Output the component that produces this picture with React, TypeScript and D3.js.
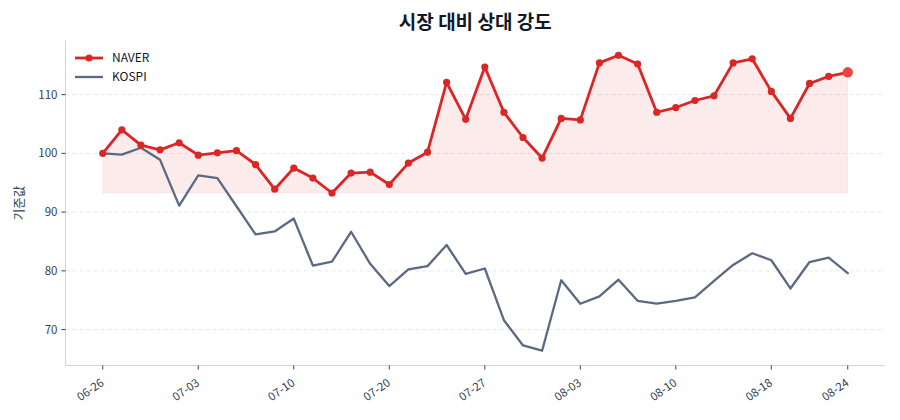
import * as d3 from 'd3'

const dates = [
  '06-26', '06-27', '06-28', '06-29', '06-30',
  '07-03', '07-04', '07-05', '07-06', '07-07',
  '07-10', '07-11', '07-12', '07-13', '07-14',
  '07-20', '07-21', '07-24', '07-25', '07-26',
  '07-27', '07-28', '07-31', '08-01', '08-02',
  '08-03', '08-04', '08-07', '08-08', '08-09',
  '08-10', '08-11', '08-14', '08-16', '08-17',
  '08-18', '08-21', '08-22', '08-23', '08-24',
]

const naver = [
  100, 104.0, 101.4, 100.6, 101.8, 99.7, 100.1, 100.45, 98.1, 93.9,
  97.5, 95.8, 93.25, 96.65, 96.8, 94.7, 98.35, 100.2, 112.1, 105.8,
  114.7, 107.0, 102.7, 99.2, 105.95, 105.7, 115.4, 116.7, 115.2, 107.0,
  107.8, 109.0, 109.8, 115.4, 116.1, 110.55, 105.95, 111.9, 113.1, 113.8,
]

const kospi = [
  100, 99.8, 100.95, 98.9, 91.1, 96.25, 95.8, 91.0, 86.2, 86.7,
  88.9, 80.9, 81.55, 86.65, 81.2, 77.4, 80.25, 80.8, 84.4, 79.5,
  80.4, 71.6, 67.3, 66.4, 78.4, 74.4, 75.65, 78.5, 74.9, 74.4,
  74.9, 75.5, 78.3, 81.0, 83.0, 81.8, 77.0, 81.5, 82.25, 79.6,
]

const yTicks = [70, 80, 90, 100, 110]
const xTickIdx = [0, 5, 10, 15, 20, 25, 30, 35, 39]

const W = 900
const H = 420
const M = { left: 65.5, right: 885, top: 40.5, bottom: 365.5 }
const FONT = '"Noto Sans CJK KR", "Noto Sans", sans-serif'
const RED = '#dc2626'
const SLATE = '#5b6a82'
const TEXT = '#334155'

export default function App() {
  const n = dates.length
  // matplotlib-like 5% x margin
  const step = (M.right - M.left) / (n - 1 + 2 * 1.95)
  const x = d3.scaleLinear().domain([0, n - 1]).range([M.left + 1.95 * step, M.right - 1.95 * step])

  const all = [...naver, ...kospi]
  const [lo, hi] = d3.extent(all) as [number, number]
  const pad = (hi - lo) * 0.05
  const y = d3.scaleLinear().domain([lo - pad, hi + pad]).range([M.bottom, M.top])

  const base = d3.min(naver) as number
  const line = d3.line<number>().x((_, i) => x(i)).y((d) => y(d))
  const area = d3.area<number>().x((_, i) => x(i)).y0(y(base)).y1((d) => y(d))

  const last = naver.length - 1

  return (
    <div style={{ position: 'absolute', left: 0, top: 0 }}>
      <svg width={W} height={H} style={{ display: 'block', background: '#fff', fontFamily: FONT }}>
        {/* grid */}
        {yTicks.map((t) => (
          <line key={t} x1={M.left} x2={M.right} y1={y(t)} y2={y(t)}
            stroke="#e5e7eb" strokeWidth={1} strokeDasharray="4,3" />
        ))}

        {/* fill */}
        <path d={area(naver) ?? ''} fill={RED} fillOpacity={0.09} stroke={RED} strokeOpacity={0.06} />

        {/* kospi */}
        <path d={line(kospi) ?? ''} fill="none" stroke={SLATE} strokeWidth={2.3}
          strokeLinejoin="round" strokeLinecap="round" />

        {/* naver */}
        <path d={line(naver) ?? ''} fill="none" stroke={RED} strokeWidth={2.8}
          strokeLinejoin="round" strokeLinecap="round" />
        {naver.map((v, i) => i === last ? null : (
          <circle key={i} cx={x(i)} cy={y(v)} r={3.6} fill={RED} />
        ))}
        <circle cx={x(last)} cy={y(naver[last])} r={5.2} fill="#ef4444" />

        {/* axes */}
        <line x1={M.left} x2={M.left} y1={M.top} y2={M.bottom} stroke="#cbd5e1" strokeWidth={1} />
        <line x1={M.left} x2={M.right} y1={M.bottom} y2={M.bottom} stroke="#cbd5e1" strokeWidth={1} />

        {yTicks.map((t) => (
          <g key={t} transform={`translate(${M.left},${y(t)})`}>
            <line x1={-4} x2={0} stroke={TEXT} strokeWidth={1} />
            <text x={-8} dy="0.35em" textAnchor="end" fontSize={11.5} fill={TEXT}>{t}</text>
          </g>
        ))}

        {xTickIdx.map((i) => (
          <g key={i} transform={`translate(${x(i)},${M.bottom})`}>
            <line y1={0} y2={4} stroke={TEXT} strokeWidth={1} />
            <text transform="translate(2,19) rotate(-35)" textAnchor="end" fontSize={11.5} fill={TEXT}>
              {dates[i]}
            </text>
          </g>
        ))}

        {/* labels */}
        <text x={(M.left + M.right) / 2} y={29} textAnchor="middle" fontSize={19} fontWeight="bold" fill="#111827">
          시장 대비 상대 강도
        </text>
        <text transform={`translate(24,${(M.top + M.bottom) / 2}) rotate(-90)`} textAnchor="middle"
          fontSize={12.5} fill={TEXT}>
          기준값
        </text>

        {/* legend */}
        <g transform="translate(75,58)">
          <line x1={0} x2={28} stroke={RED} strokeWidth={2.8} />
          <circle cx={14} cy={0} r={3.6} fill={RED} />
          <text x={37} dy="0.35em" fontSize={12} fill="#111827">NAVER</text>
        </g>
        <g transform="translate(75,77)">
          <line x1={0} x2={28} stroke={SLATE} strokeWidth={2.3} />
          <text x={37} dy="0.35em" fontSize={12} fill="#111827">KOSPI</text>
        </g>
      </svg>
    </div>
  )
}
